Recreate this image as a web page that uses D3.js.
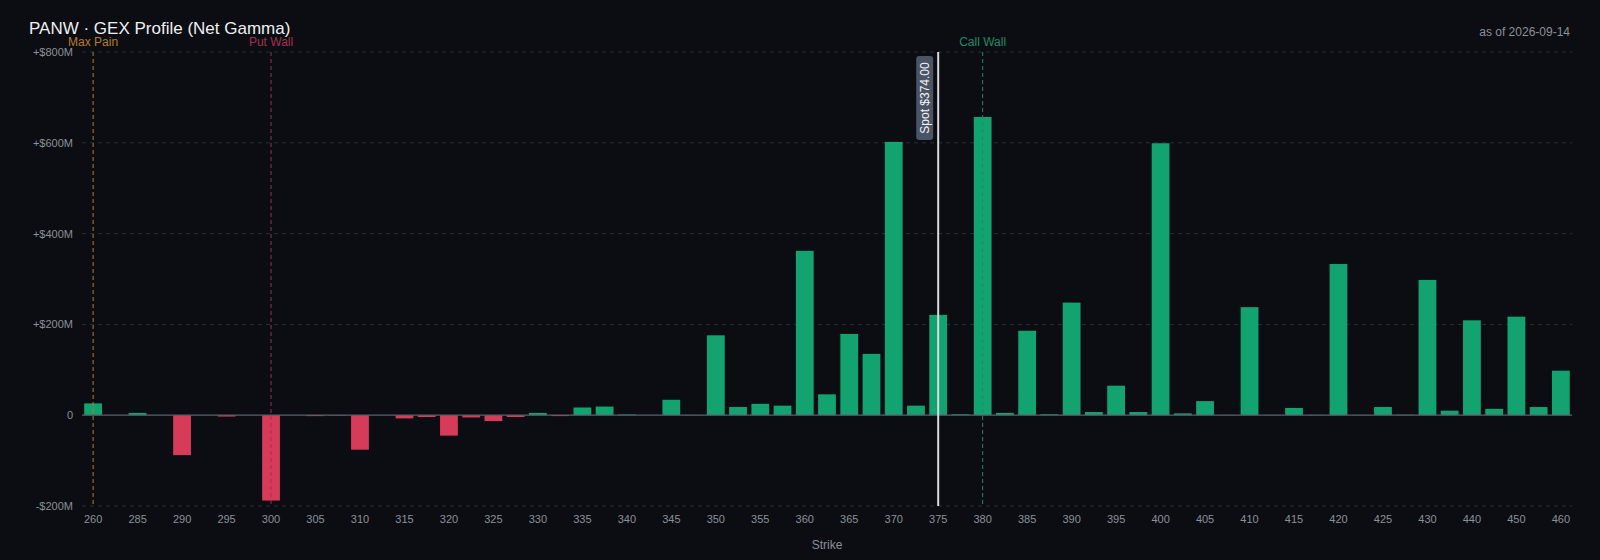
<!DOCTYPE html>
<html>
  <head>
    <meta charset="utf-8">
    <script src="https://d3js.org/d3.v7.min.js"></script>
    <title>PANW GEX Profile</title>
    <style>
      html, body { margin: 0; padding: 0; background: #0b0d12; }
      svg { display: block; font-family: Arial, "Liberation Sans", Helvetica, sans-serif; }
      .grid line { stroke: #2a2e37; stroke-dasharray: 4,4; }
      .axis text { fill: #8b9099; }
    </style>
  </head>
  <body>
    <svg id="chart" width="1600" height="560"></svg>
    <script>
      // strikes (categories) and net gamma per strike, $M
      var strikes = ["260", "270", "285", "287.5", "290", "292.5", "295", "297.5", "300", "302.5",
        "305", "307.5", "310", "312.5", "315", "317.5", "320", "322.5", "325", "327.5",
        "330", "332.5", "335", "337.5", "340", "342.5", "345", "347.5", "350", "352.5",
        "355", "357.5", "360", "362.5", "365", "367.5", "370", "372.5", "375", "377.5",
        "380", "382.5", "385", "387.5", "390", "392.5", "395", "397.5", "400", "402.5",
        "405", "407.5", "410", "412.5", "415", "417.5", "420", "422.5", "425", "427.5",
        "430", "435", "440", "445", "450", "455", "460"];
      var netGamma = [26, 0, 5, 0, -88, 0, -3, 0, -188, 0,
        -2, -1, -76, 0, -7, -4, -45, -5, -13, -4,
        5, -2, 17, 19, 1.5, 0, 34, 0.5, 176, 18,
        25, 21, 362, 46, 179, 135, 602, 21, 221, 2,
        657, 5, 186, 2, 248, 7, 65, 7, 599, 4,
        31, 0.5, 238, 0.5, 16, 0.5, 333, 0.5, 18, 1,
        298, 10, 209, 14, 217, 18, 98];
      var yTicks = [-200, 0, 200, 400, 600, 800];
      var spotPrice = 374.00;
      var levels = [
        { name: "Max Pain", strike: "260", color: "#b67e22" },
        { name: "Put Wall", strike: "300", color: "#a3314f" },
        { name: "Call Wall", strike: "380", color: "#1e8c66" }
      ];
      var title = "PANW \u00b7 GEX Profile (Net Gamma)";
      var asOf = "as of 2026-09-14";

      var data = strikes.map(function (s, i) { return { strike: s, value: netGamma[i] }; });

      var svg = d3.select("#chart"),
          margin = { top: 52, right: 28, bottom: 54, left: 82 },
          width = +svg.attr("width") - margin.left - margin.right,
          height = +svg.attr("height") - margin.top - margin.bottom;

      svg.append("rect").attr("width", 1600).attr("height", 560).attr("fill", "#0b0d12");

      var x = d3.scaleBand().domain(strikes).range([0, width]).paddingInner(0.2).paddingOuter(0.1);
      var y = d3.scaleLinear().domain([-200, 800]).range([height, 0]);

      var g = svg.append("g")
          .attr("transform", "translate(" + margin.left + "," + margin.top + ")");

      // horizontal grid
      g.append("g")
          .attr("class", "grid")
          .selectAll("line")
          .data(yTicks.filter(function (t) { return t !== 0; }))
          .enter().append("line")
          .attr("x1", 0).attr("x2", width)
          .attr("y1", function (d) { return y(d); })
          .attr("y2", function (d) { return y(d); });

      // y axis
      var fmt = function (d) {
        if (d === 0) return "0";
        return (d > 0 ? "+" : "-") + "$" + Math.abs(d) + "M";
      };
      var yAxis = g.append("g")
          .attr("class", "axis")
          .call(d3.axisLeft(y).tickValues(yTicks).tickFormat(fmt).tickSize(0).tickPadding(9));
      yAxis.select(".domain").remove();
      yAxis.selectAll("text").style("font-size", "11px");

      // x axis, every other strike labelled
      var xAxis = g.append("g")
          .attr("class", "axis")
          .attr("transform", "translate(0," + height + ")")
          .call(d3.axisBottom(x)
              .tickValues(strikes.filter(function (d, i) { return i % 2 === 0; }))
              .tickFormat(function (d) { return Math.round(+d); })
              .tickSize(0).tickPadding(9));
      xAxis.select(".domain").remove();
      xAxis.selectAll("text").style("font-size", "11px");

      g.append("text")
          .attr("x", width / 2)
          .attr("y", height + 43)
          .attr("text-anchor", "middle")
          .attr("fill", "#8b9099")
          .style("font-size", "12px")
          .text("Strike");

      // bars
      g.selectAll(".bar")
          .data(data)
          .enter().append("rect")
          .attr("class", "bar")
          .attr("x", function (d) { return x(d.strike); })
          .attr("y", function (d) { return y(Math.max(0, d.value)); })
          .attr("width", x.bandwidth())
          .attr("height", function (d) { return Math.abs(y(d.value) - y(0)); })
          .attr("fill", function (d) { return d.value >= 0 ? "#12a370" : "#d63b59"; });

      // zero line
      g.append("line")
          .attr("x1", 0).attr("x2", width)
          .attr("y1", y(0)).attr("y2", y(0))
          .attr("stroke", "#5b606b").attr("stroke-width", 1.2);

      // key levels
      levels.forEach(function (l) {
        var cx = x(l.strike) + x.bandwidth() / 2;
        g.append("line")
            .attr("x1", cx).attr("x2", cx)
            .attr("y1", 0).attr("y2", height)
            .attr("stroke", l.color).attr("stroke-width", 1)
            .attr("stroke-dasharray", "4,3");
        g.append("text")
            .attr("x", cx).attr("y", -6)
            .attr("text-anchor", "middle")
            .attr("fill", l.color)
            .style("font-size", "12px")
            .text(l.name);
      });

      // spot line at nearest strike
      var spotStrike = strikes.reduce(function (a, b) {
        return Math.abs(+b - spotPrice) < Math.abs(+a - spotPrice) ? b : a;
      });
      var sx = x(spotStrike) + x.bandwidth() / 2;
      g.append("line")
          .attr("x1", sx).attr("x2", sx)
          .attr("y1", 0).attr("y2", height)
          .attr("stroke", "#d9dbe0").attr("stroke-width", 2);
      var spotLabel = g.append("g")
          .attr("transform", "translate(" + (sx - 13.5) + ",46) rotate(-90)");
      spotLabel.append("rect")
          .attr("x", -42).attr("y", -8.5)
          .attr("width", 84).attr("height", 17)
          .attr("rx", 3)
          .attr("fill", "#4a5465");
      spotLabel.append("text")
          .attr("x", 0).attr("y", 4)
          .attr("text-anchor", "middle")
          .attr("fill", "#f2f3f5")
          .style("font-size", "12px")
          .text("Spot $" + spotPrice.toFixed(2));

      // titles
      svg.append("text")
          .attr("x", 29).attr("y", 34)
          .attr("fill", "#eeeff1")
          .style("font-size", "17px")
          .text(title);
      svg.append("text")
          .attr("x", 1570).attr("y", 36)
          .attr("text-anchor", "end")
          .attr("fill", "#8b9099")
          .style("font-size", "12px")
          .text(asOf);
    </script>
  </body>
</html>
